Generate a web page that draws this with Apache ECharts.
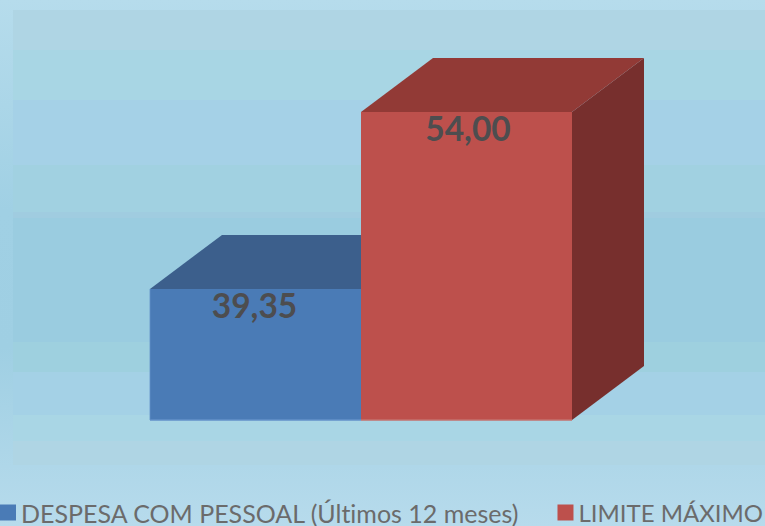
<!DOCTYPE html>
<html>
<head>
<meta charset="utf-8">
<style>html,body{margin:0;padding:0;background:#b3dbea;overflow:hidden}#c{width:765px;height:526px}text{font-variant-ligatures:none !important}</style>
<script src="https://cdn.jsdelivr.net/npm/echarts@6/dist/echarts.min.js"></script>
</head>
<body>
<div id="c"></div>
<script>
const categories = ['DESPESA COM PESSOAL (Últimos 12 meses)', 'LIMITE MÁXIMO'];
const despesa = [39.35];
const limite = [54.00];
const palettes = [
  {front:'#4a7bb6', edge:'#6391c8', top:'#3c5f8c', side:'#2f4c70'},
  {front:'#bd504c', edge:'#c4706c', top:'#923a36', side:'#772f2d'}
];
const bands = [
  [10,50,'#afd5e4'],[50,100,'#a8d6e4'],[100,165,'#a5d1e7'],[165,212,'#a1d1e1'],
  [212,218,'#a0cce0'],[218,342,'#9acce0'],[342,372,'#9ed0df'],[372,415,'#a4d1e6'],
  [415,441,'#a9d6e5'],[441,465,'#afd5e4']
];
const chart = echarts.init(document.getElementById('c'), null, {renderer:'svg'});
function bar3d(idx){
  return function(params, api){
    const x = api.value(0), v = api.value(1);
    const c = api.coord([x, v]), b = api.coord([x, 28.5]);
    const w = api.size([1,0])[0];
    const l = c[0]-w/2, r = c[0]+w/2, t = c[1], bt = b[1];
    const dx = 72, dy = 54;
    const p = palettes[idx];
    return {type:'group', children:[
      {type:'polygon', shape:{points:[[r,t],[r+dx,t-dy],[r+dx,bt-dy],[r,bt]]}, style:{fill:p.side}},
      {type:'polygon', shape:{points:[[l,t],[l+dx,t-dy],[r+dx,t-dy],[r,t]]}, style:{fill:p.top}},
      {type:'rect', shape:{x:l,y:t,width:w,height:bt-t}, style:{fill:p.front}},
      {type:'line', shape:{x1:l,y1:bt,x2:r,y2:bt}, style:{stroke:p.edge, lineWidth:1.5}},
      {type:'line', shape:{x1:l,y1:t,x2:l,y2:bt}, style:{stroke:p.edge, lineWidth:1, opacity:idx===0?0.8:0}},
      {type:'text', x:c[0]+(idx===0?-1:1.5), y:t+16, style:{text:v.toFixed(2).replace('.',','), fill:'#4d4d4f',
        font:'bold 33.5px Lato, "Open Sans", sans-serif', textAlign:'center', textVerticalAlign:'middle'}}
    ]};
  };
}
const bgRects = [{type:'rect', z:-10, shape:{x:0,y:0,width:765,height:526},
  style:{fill:new echarts.graphic.LinearGradient(0,0,0,1,[
    {offset:0,color:'#b6dcec'},{offset:0.4,color:'#a0d0e4'},{offset:0.66,color:'#9fcfe3'},{offset:1,color:'#b7dbec'}])}}]
 .concat(bands.map(b=>({type:'rect', z:-9, shape:{x:13,y:b[0],width:752,height:b[1]-b[0]}, style:{fill:b[2]}})));
chart.setOption({
  animation:false,
  backgroundColor:'transparent',
  graphic:{elements:bgRects},
  grid:{left:150, width:422, top:112, bottom:106},
  xAxis:{type:'category', data:categories, show:false},
  yAxis:{type:'value', min:28.5, max:54, show:false},
  legend:{left:0, top:500, width:900, padding:0, icon:'rect', itemWidth:16, itemHeight:16, itemGap:37,
    data:[{name:categories[0], itemStyle:{color:palettes[0].front}},
          {name:categories[1], itemStyle:{color:palettes[1].front}, textStyle:{fontSize:24}}],
    textStyle:{color:'#6b6b6b', fontSize:25, fontFamily:'Lato', padding:[0,0,0,0]}},
  series:[
    {name:categories[0], type:'custom', renderItem:bar3d(0), data:[[0,despesa[0]]], encode:{x:0,y:1}, itemStyle:{color:palettes[0].front}},
    {name:categories[1], type:'custom', renderItem:bar3d(1), data:[[1,limite[0]]], encode:{x:0,y:1}, itemStyle:{color:palettes[1].front}}
  ]
});
</script>
</body>
</html>
